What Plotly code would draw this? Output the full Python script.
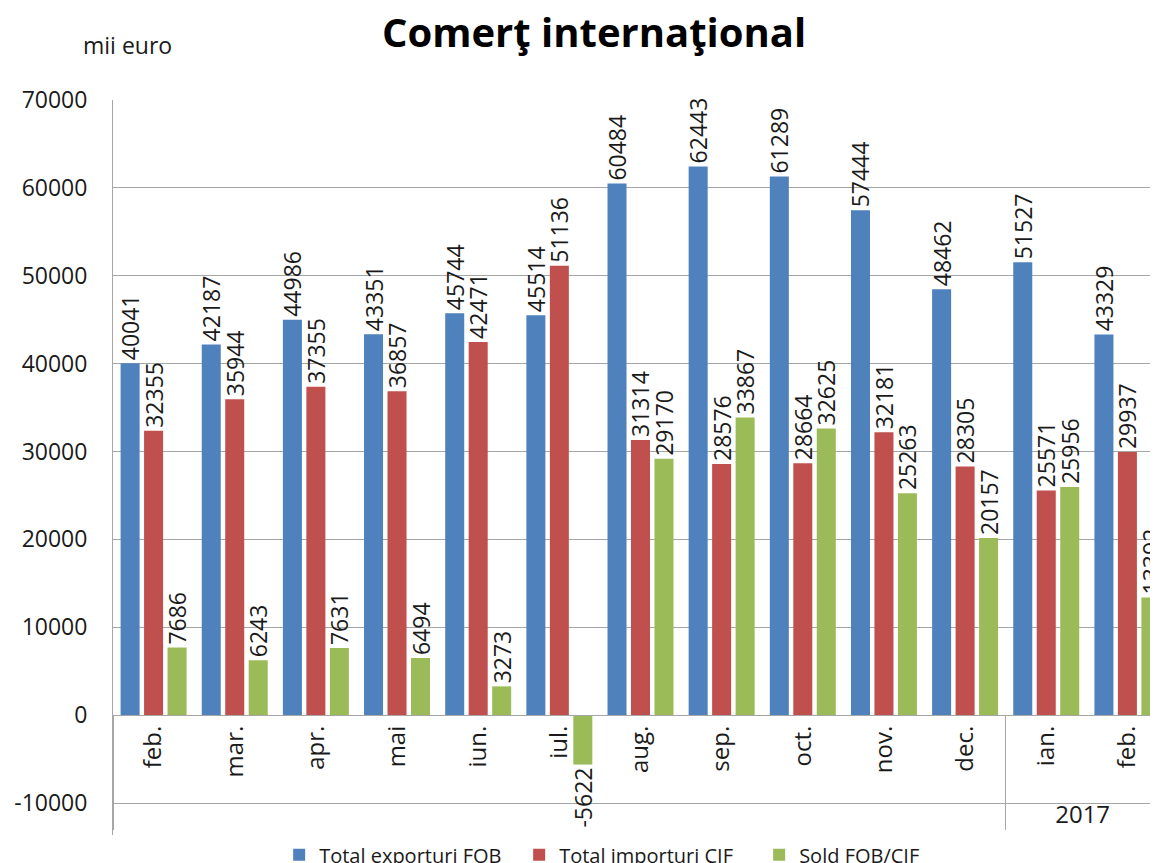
import plotly.graph_objects as go

ZWSP = "\u200b"
months = ["feb.", "mar.", "apr.", "mai", "iun.", "iul.", "aug.", "sep.", "oct.", "nov.", "dec.", "ian.", "feb." + ZWSP]
years = [" "] * 11 + ["2017", "2017"]
exporturi = [40041, 42187, 44986, 43351, 45744, 45514, 60484, 62443, 61289, 57444, 48462, 51527, 43329]
importuri = [32355, 35944, 37355, 36857, 42471, 51136, 31314, 28576, 28664, 32181, 28305, 25571, 29937]
sold = [7686, 6243, 7631, 6494, 3273, -5622, 29170, 33867, 32625, 25263, 20157, 25956, 13392]
y_ticks = [-10000, 0, 10000, 20000, 30000, 40000, 50000, 60000, 70000]

FONT = "Open Sans"
TXT = "#1a1a1a"
GRID = "#a6a6a6"

series = [
    ("Total exporturi FOB", exporturi, "#4F81BD"),
    ("Total importuri CIF", importuri, "#C0504D"),
    ("Sold FOB/CIF", sold, "#9BBB59"),
]

fig = go.Figure()
for name, vals, col in series:
    fig.add_trace(go.Bar(
        name=name,
        x=[years, months],
        y=vals,
        marker=dict(color=col, line=dict(width=0)),
        text=[str(v) for v in vals],
        textposition="outside",
        textangle=-90,
        constraintext="none",
        cliponaxis=False,
        textfont=dict(family=FONT, size=23, color=TXT),
    ))

ymin, ymax = -13640, 70000
# page body adds an 8px offset; figure sized so the plot area lands at x 113..1158, y 100..835
fig.update_layout(
    width=1150, height=855,
    margin=dict(l=105, r=0, t=92, b=28, autoexpand=False),
    paper_bgcolor="white", plot_bgcolor="white",
    barmode="group", bargap=0.132, bargroupgap=0.19,
    font=dict(family=FONT, size=22, color=TXT),
    title=dict(text="<b>Comerţ internaţional</b>", x=0.5096, xanchor="center",
               y=0.9708, yanchor="middle",
               font=dict(family=FONT, size=40, color="black")),
    showlegend=True,
    legend=dict(orientation="h", xref="paper", yref="paper", x=0.159, xanchor="left",
                y=-0.027, yanchor="middle", font=dict(family=FONT, size=20, color=TXT),
                traceorder="normal", itemwidth=30, entrywidth=195, entrywidthmode="pixels"),
    xaxis=dict(
        type="multicategory",
        anchor="free",
        position=(0 - ymin) / (ymax - ymin),
        range=[-0.5, 12.377],
        automargin=False,
        showline=True, linecolor=GRID, linewidth=1,
        showgrid=False, ticks="outside", ticklen=14, tickcolor="rgba(0,0,0,0)",
        tickangle=-90,
        tickfont=dict(family=FONT, size=24, color=TXT),
        showdividers=True, dividercolor=GRID, dividerwidth=1,
    ),
    yaxis=dict(
        range=[ymin, ymax],
        automargin=False,
        tickvals=y_ticks,
        ticktext=[str(v) for v in y_ticks],
        showgrid=True, gridcolor=GRID, gridwidth=1,
        zeroline=False,
        showline=True, linecolor=GRID, linewidth=1,
        ticks="", ticklabelstandoff=20,
        tickfont=dict(family=FONT, size=23, color=TXT),
    ),
)

fig.add_annotation(text="mii euro", xref="paper", yref="paper", x=0.0139, y=1.0748,
                   xanchor="center", yanchor="middle", showarrow=False,
                   font=dict(family=FONT, size=23, color=TXT))

fig.write_html("out.html")
